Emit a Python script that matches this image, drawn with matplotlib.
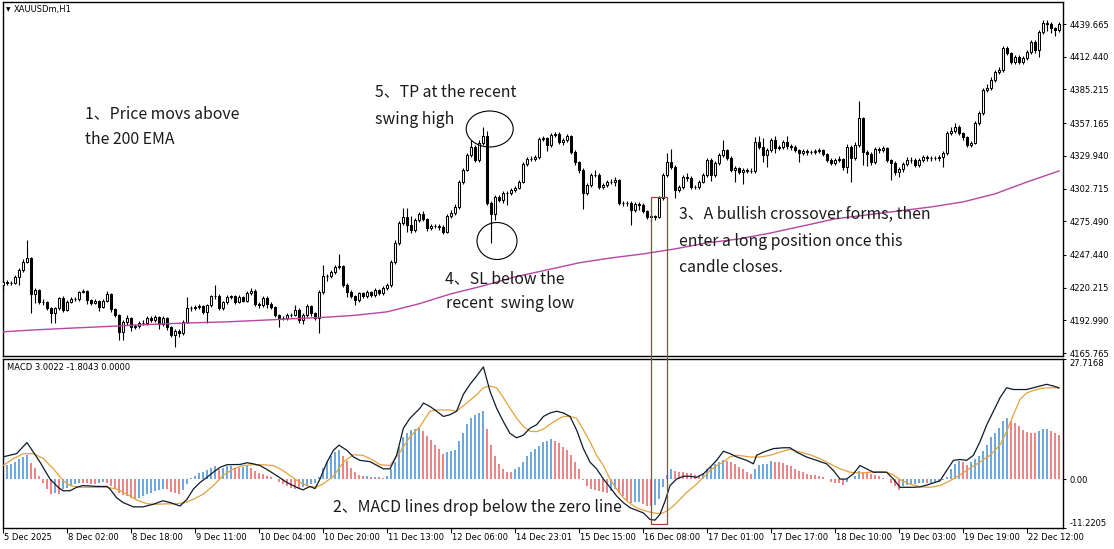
import matplotlib
matplotlib.use("Agg")
import matplotlib.pyplot as plt
from matplotlib.patches import Ellipse, Rectangle
from matplotlib.transforms import offset_copy
import numpy as np

# ---------------- data ----------------
symbol_title = "XAUUSDm,H1"
macd_title = "MACD 3.0022 -1.8043 0.0000"

first_open = 4222.5
closes = [
    4225.0, 4224.1, 4224.5, 4229.1, 4234.9, 4241.6, 4244.9, 4215.0, 4218.3, 4208.3,
    4208.6, 4203.3, 4199.2, 4203.3, 4211.7, 4201.7, 4208.3, 4210.8, 4211.0, 4216.7,
    4217.5, 4210.0, 4207.5, 4209.2, 4204.2, 4209.2, 4215.0, 4202.5, 4197.5, 4183.4,
    4191.7, 4195.0, 4187.5, 4188.4, 4190.9, 4191.0, 4195.0, 4193.4, 4195.9, 4190.0,
    4195.0, 4187.5, 4180.9, 4184.2, 4182.5, 4191.7, 4203.3, 4203.5, 4204.2, 4205.0,
    4200.0, 4205.8, 4213.3, 4213.5, 4203.3, 4208.3, 4212.5, 4213.3, 4208.3, 4212.5,
    4209.2, 4215.8, 4217.5, 4206.7, 4205.8, 4211.7, 4206.7, 4204.2, 4197.5, 4195.0,
    4195.2, 4197.5, 4197.7, 4201.7, 4193.4, 4197.5, 4205.0, 4199.2, 4195.0, 4216.7,
    4230.0, 4230.2, 4233.3, 4237.5, 4238.3, 4222.5, 4216.7, 4213.3, 4210.0, 4215.8,
    4213.3, 4216.7, 4214.2, 4218.3, 4215.8, 4220.0, 4222.5, 4241.6, 4257.4, 4274.1,
    4279.1, 4272.4, 4268.2, 4276.6, 4281.6, 4277.4, 4269.9, 4271.6, 4271.8, 4270.7,
    4266.6, 4279.9, 4282.4, 4287.4, 4308.2, 4318.2, 4330.6, 4337.3, 4326.5, 4340.6,
    4346.4, 4290.7, 4281.6, 4295.7, 4293.2, 4299.0, 4299.2, 4301.5, 4303.2, 4308.2,
    4323.2, 4327.3, 4327.5, 4329.0, 4343.9, 4344.8, 4339.0, 4347.3, 4348.1, 4341.5,
    4343.1, 4346.4, 4333.1, 4324.8, 4318.2, 4299.0, 4305.7, 4314.0, 4314.2, 4304.0,
    4305.7, 4308.2, 4308.4, 4309.8, 4290.7, 4290.9, 4290.6, 4284.9, 4289.9, 4289.0,
    4284.0, 4279.1, 4279.9, 4279.1, 4294.9, 4314.0, 4324.8, 4320.7, 4301.5, 4304.0,
    4312.3, 4311.5, 4304.0, 4304.2, 4308.2, 4314.0, 4326.5, 4314.0, 4324.0, 4330.6,
    4334.8, 4328.1, 4318.2, 4319.8, 4316.5, 4318.2, 4317.3, 4317.5, 4341.5, 4337.3,
    4330.6, 4334.8, 4343.1, 4336.5, 4337.3, 4341.5, 4338.1, 4337.3, 4334.8, 4332.3,
    4334.0, 4333.1, 4333.3, 4334.0, 4334.8, 4331.5, 4326.5, 4324.0, 4326.5, 4327.3,
    4320.7, 4337.3, 4328.1, 4339.0, 4361.4, 4333.1, 4331.5, 4324.8, 4335.6, 4334.8,
    4336.5, 4326.5, 4324.0, 4316.5, 4319.0, 4323.2, 4326.5, 4326.7, 4322.3, 4326.5,
    4329.0, 4328.1, 4328.3, 4328.0, 4329.0, 4332.3, 4348.9, 4350.6, 4353.9, 4348.9,
    4345.6, 4339.0, 4340.6, 4357.3, 4365.6, 4384.7, 4386.4, 4393.0, 4399.7, 4401.4,
    4419.7, 4415.5, 4408.0, 4412.2, 4408.0, 4411.3, 4416.4, 4424.7, 4418.0, 4433.0,
    4440.5, 4439.6, 4436.3, 4434.6, 4439.6,
]
highs = [
    4226.5, 4226.2, 4226.0, 4231.0, 4236.5, 4244.0, 4259.9, 4246.0, 4220.0, 4219.5,
    4210.5, 4209.5, 4204.5, 4204.2, 4212.5, 4213.5, 4210.0, 4212.5, 4212.5, 4217.5,
    4219.0, 4218.3, 4211.0, 4210.5, 4210.0, 4210.5, 4217.5, 4216.0, 4203.5, 4198.5,
    4193.0, 4197.5, 4196.0, 4190.0, 4192.5, 4193.0, 4196.5, 4196.5, 4197.5, 4197.0,
    4196.5, 4196.0, 4188.5, 4186.0, 4185.5, 4193.0, 4212.5, 4205.0, 4205.5, 4206.5,
    4206.0, 4207.0, 4214.5, 4222.5, 4215.0, 4209.5, 4214.0, 4214.5, 4214.2, 4213.8,
    4213.5, 4217.5, 4220.0, 4219.5, 4208.0, 4213.0, 4213.0, 4208.0, 4205.0, 4198.5,
    4197.0, 4199.0, 4199.5, 4206.0, 4203.0, 4199.0, 4206.5, 4206.0, 4200.0, 4218.5,
    4239.1, 4232.0, 4235.0, 4239.5, 4248.3, 4239.5, 4224.0, 4218.0, 4214.5, 4217.0,
    4217.0, 4218.0, 4217.5, 4220.0, 4219.5, 4221.5, 4224.0, 4243.0, 4259.5, 4275.5,
    4286.5, 4286.5, 4280.0, 4278.0, 4283.5, 4284.0, 4278.5, 4273.0, 4273.5, 4273.0,
    4272.0, 4281.5, 4284.5, 4289.5, 4310.0, 4320.0, 4332.0, 4343.1, 4339.0, 4343.1,
    4353.9, 4351.0, 4292.5, 4297.5, 4297.0, 4300.5, 4301.0, 4303.0, 4305.0, 4310.0,
    4325.0, 4329.0, 4330.0, 4331.0, 4345.5, 4346.5, 4346.0, 4349.0, 4349.8, 4349.5,
    4345.0, 4348.5, 4347.5, 4334.5, 4326.0, 4320.0, 4307.5, 4315.5, 4318.2, 4315.5,
    4307.5, 4310.0, 4310.5, 4312.0, 4311.0, 4292.5, 4292.5, 4292.0, 4291.5, 4291.5,
    4290.5, 4285.0, 4281.5, 4281.0, 4296.5, 4315.5, 4332.3, 4335.6, 4322.0, 4306.0,
    4314.0, 4315.5, 4313.0, 4306.0, 4310.0, 4315.5, 4328.5, 4328.0, 4325.5, 4332.0,
    4343.1, 4336.0, 4329.5, 4321.5, 4321.0, 4320.0, 4320.0, 4319.5, 4345.6, 4346.4,
    4345.0, 4336.5, 4345.0, 4346.4, 4339.0, 4343.5, 4346.4, 4340.0, 4339.0, 4336.0,
    4335.5, 4335.5, 4335.0, 4335.5, 4336.5, 4336.0, 4332.5, 4328.0, 4328.0, 4329.5,
    4328.5, 4340.0, 4339.0, 4341.5, 4375.6, 4362.5, 4335.0, 4333.0, 4337.5, 4337.0,
    4338.5, 4337.5, 4327.5, 4325.5, 4320.5, 4325.0, 4329.0, 4329.0, 4328.5, 4328.5,
    4331.0, 4330.5, 4330.0, 4330.0, 4331.0, 4334.0, 4350.5, 4354.0, 4357.0, 4355.5,
    4350.0, 4346.5, 4342.0, 4359.0, 4367.5, 4386.5, 4389.5, 4395.5, 4401.5, 4403.5,
    4421.0, 4421.5, 4416.5, 4414.0, 4413.5, 4413.0, 4418.0, 4426.5, 4426.0, 4434.5,
    4443.0, 4443.0, 4441.0, 4437.5, 4441.5,
]
lows = [
    4216.7, 4222.5, 4222.3, 4223.0, 4222.5, 4233.5, 4240.5, 4199.2, 4207.5, 4207.0,
    4206.0, 4202.0, 4190.9, 4190.9, 4201.5, 4200.0, 4200.5, 4207.5, 4209.2, 4209.0,
    4215.8, 4206.5, 4206.0, 4206.5, 4200.8, 4203.0, 4208.5, 4200.0, 4195.5, 4176.7,
    4176.7, 4189.5, 4184.5, 4185.5, 4186.5, 4189.0, 4189.5, 4192.0, 4191.5, 4186.0,
    4188.5, 4185.0, 4179.0, 4170.9, 4179.5, 4181.0, 4190.5, 4200.5, 4201.5, 4202.5,
    4198.5, 4190.9, 4204.5, 4211.0, 4201.5, 4202.0, 4207.0, 4211.0, 4207.0, 4207.5,
    4208.0, 4208.5, 4214.5, 4205.0, 4203.5, 4204.5, 4203.5, 4202.5, 4196.0, 4187.5,
    4193.0, 4193.5, 4196.0, 4196.5, 4190.5, 4190.0, 4196.0, 4196.5, 4193.5, 4182.5,
    4215.0, 4226.0, 4228.5, 4232.0, 4236.0, 4221.0, 4212.5, 4211.5, 4205.5, 4208.5,
    4211.5, 4212.0, 4212.5, 4212.5, 4214.0, 4214.5, 4218.5, 4221.0, 4240.0, 4255.5,
    4272.5, 4266.6, 4266.0, 4266.5, 4275.0, 4275.5, 4267.0, 4268.0, 4269.5, 4268.5,
    4264.5, 4265.5, 4278.5, 4281.0, 4286.0, 4306.5, 4317.0, 4329.0, 4325.0, 4325.0,
    4339.0, 4289.0, 4257.4, 4276.6, 4291.5, 4291.0, 4289.0, 4297.5, 4299.5, 4302.0,
    4307.0, 4321.5, 4325.5, 4325.5, 4327.5, 4342.0, 4334.0, 4337.5, 4345.5, 4339.5,
    4339.0, 4341.5, 4331.5, 4322.5, 4316.0, 4285.7, 4297.0, 4304.0, 4312.0, 4302.0,
    4302.5, 4304.0, 4306.5, 4305.0, 4289.0, 4288.5, 4288.5, 4272.4, 4283.5, 4284.5,
    4282.0, 4277.0, 4274.9, 4276.5, 4278.0, 4293.5, 4312.5, 4319.0, 4294.5, 4299.5,
    4302.5, 4309.0, 4302.0, 4302.0, 4302.5, 4307.0, 4312.5, 4309.0, 4312.0, 4322.5,
    4329.0, 4326.5, 4316.5, 4308.2, 4314.5, 4306.5, 4315.5, 4315.5, 4316.0, 4335.5,
    4324.5, 4320.7, 4333.0, 4332.0, 4334.5, 4335.5, 4336.0, 4335.0, 4333.0, 4325.1,
    4330.5, 4331.0, 4331.5, 4331.5, 4332.5, 4330.0, 4325.0, 4322.0, 4322.5, 4325.0,
    4318.5, 4315.7, 4308.2, 4326.5, 4337.5, 4322.3, 4321.5, 4322.5, 4323.0, 4332.5,
    4333.0, 4324.5, 4309.8, 4314.0, 4312.0, 4316.5, 4321.5, 4324.0, 4320.5, 4321.0,
    4324.5, 4326.0, 4326.0, 4326.5, 4326.0, 4320.9, 4331.0, 4347.0, 4349.0, 4347.0,
    4343.5, 4337.0, 4337.5, 4339.5, 4355.5, 4364.0, 4383.0, 4385.0, 4391.5, 4398.0,
    4400.0, 4413.5, 4406.0, 4406.5, 4406.0, 4406.5, 4410.0, 4415.0, 4415.5, 4412.4,
    4431.5, 4433.5, 4432.0, 4429.5, 4433.0,
]

# 200 EMA, read every 8 bars
ema_bars = list(range(0, 265, 8))
ema_vals = [
    4183.5, 4185.1, 4186.4, 4187.6, 4188.9, 4190.1, 4191.0, 4191.8, 4193.0, 4194.3,
    4195.5, 4197.2, 4200.1, 4206.8, 4215.1, 4221.7, 4229.2, 4235.0, 4240.9, 4245.0,
    4248.3, 4252.5, 4257.5, 4260.8, 4265.8, 4271.6, 4277.5, 4280.8, 4284.1, 4287.4,
    4291.6, 4298.3, 4308.2, 4317.4,
]

macd_hist = [
    3.2, 3.3, 3.5, 4.0, 4.5, 5.0, 5.6, 3.7, 2.5, 0.8,
    -0.9, -2.3, -3.5, -3.3, -3.5, -2.3, -2.0, -1.7, -1.2, -0.8,
    -0.9, -1.0, -1.1, -1.2, -0.9, -0.7, -1.0, -1.6, -2.3, -3.1,
    -3.6, -3.9, -4.3, -4.6, -4.4, -3.9, -3.5, -3.1, -2.7, -2.5,
    -2.2, -2.4, -2.9, -3.2, -3.4, -2.5, -1.2, 0.3, 0.8, 1.3,
    1.7, 2.1, 2.6, 2.9, 2.3, 2.6, 2.9, 3.0, 2.6, 2.5,
    2.7, 3.0, 2.5, 1.9, 1.3, 1.1, 0.8, 0.5, 0.0, -0.6,
    -1.2, -1.7, -2.1, -2.3, -2.4, -1.8, -1.6, -1.2, -0.9, 0.5,
    2.5, 4.0, 5.3, 6.3, 6.6, 5.4, 4.2, 2.6, 1.6, 0.9,
    0.6, 0.65, 0.5, 0.55, 0.4, 0.3, 0.8, 2.3, 4.0, 7.4,
    9.7, 10.7, 11.3, 11.5, 11.8, 11.0, 9.9, 8.9, 7.9, 7.0,
    5.8, 6.2, 6.4, 6.6, 8.7, 10.6, 12.6, 14.0, 14.8, 15.2,
    15.7, 11.5, 7.8, 5.3, 3.5, 2.3, 1.7, 1.6, 2.3, 2.7,
    4.0, 5.4, 6.2, 6.8, 7.6, 8.5, 8.7, 9.2, 8.7, 8.2,
    7.4, 6.6, 5.6, 4.0, 2.3, -0.2, -1.6, -2.2, -2.5, -2.7,
    -3.0, -3.3, -2.8, -2.4, -3.2, -4.0, -4.8, -5.4, -5.3, -5.2,
    -5.8, -6.1, -6.3, -5.9, -4.5, -1.9, 1.0, 2.3, 1.9, 1.7,
    1.6, 1.5, 1.3, 0.9, 0.6, 1.5, 2.3, 2.7, 3.5, 3.9,
    4.3, 4.2, 3.9, 3.5, 2.8, 2.3, 1.55, 1.17, 2.3, 3.26,
    3.5, 3.55, 4.2, 4.0, 3.9, 3.7, 3.3, 2.9, 2.3, 1.9,
    1.55, 1.17, 1.0, 0.9, 0.8, 0.4, -0.1, -0.6, -0.8, -0.85,
    -1.4, -0.6, 0.05, 0.6, 1.9, 1.7, 1.4, 1.2, 0.9, 0.6,
    0.3, -0.1, -0.8, -1.55, -2.5, -1.7, -1.3, -1.2, -1.1, -1.0,
    -0.9, -1.0, -0.9, -0.8, -0.6, -0.3, 0.4, 2.3, 3.5, 4.04,
    4.0, 3.3, 3.9, 4.7, 5.4, 6.4, 7.9, 9.7, 10.7, 11.7,
    13.4, 14.0, 13.4, 12.8, 12.3, 11.3, 10.9, 10.7, 10.5, 11.0,
    11.5, 11.6, 11.0, 10.5, 10.1,
]

main_bars = [
    0, 3.4, 6, 7.6, 9.25, 11.75, 13.8, 15, 16.75, 18.4, 20, 23.4, 26, 26.75, 28.4, 30,
    32.6, 35, 37.6, 40, 41.75, 44.25, 46, 47.6, 49.25, 51, 52.6, 54.25, 56, 59.25, 61,
    62.6, 64.25, 66, 68.4, 71, 73.4, 75, 76.75, 78, 79.25, 81, 82.6, 84, 86, 87.6, 89.25,
    91.75, 93.4, 95.1, 96.75, 98.4, 100.1, 101.75, 104.25, 105.1, 106.75, 108.4, 110.1,
    111.75, 113.4, 115.1, 116.75, 118.4, 120.1, 121.75, 123.4, 125.1, 126.75, 128.4,
    130.1, 131.75, 133.4, 135.1, 136.75, 138.4, 140.1, 141.75, 143.4, 145.1, 146.75,
    148.4, 150.1, 151.75, 153.4, 155.1, 156.75, 158.4, 160.1, 161.75, 163, 164.25,
    165.5, 166.75, 168.4, 170.1, 171.75, 173.4, 175.1, 176.75, 178.4, 180.1, 181.75,
    183.4, 185.9, 187.6, 188.4, 190.1, 192.6, 195.1, 196.75, 198.4, 200.9, 203.4,
    205.9, 207.6, 209.25, 210.9, 212.6, 214.25, 215.9, 217.6, 219.25, 220.9, 222.6,
    224.25, 225.9, 227.6, 229.25, 230.9, 232.6, 234.25, 235.9, 237.6, 239.25, 240.9,
    242.6, 244.25, 245.9, 247.6, 249.25, 250.9, 252.6, 254.25, 255.9, 257.6, 259.25,
    260.9, 262.6, 264,
]
main_vals = [
    5.1, 5.85, 8.4, 6.2, 3.9, 0.0, -1.9, -2.7, -2.7, -1.9, -1.5, -1.7, -1.7, -2.3, -4.3, -5.4,
    -6.4, -6.4, -5.8, -5.0, -5.4, -6.2, -4.65, -2.3, -0.8, 0.4, 1.6, 2.7, 3.3, 3.35, 3.75,
    3.5, 3.1, 2.2, 0.8, -0.8, -1.9, -2.5, -1.7, -2.2, 0.0, 3.9, 6.6, 7.8, 6.6, 5.1, 4.3,
    4.0, 3.2, 2.35, 2.35, 5.46, 11.7, 14.0, 16.3, 17.5, 16.7, 15.6, 14.4,
    14.8, 15.6, 19.5, 21.8, 23.7, 25.8, 20.2, 16.3, 13.2, 10.5, 9.5,
    10.1, 11.7, 12.5, 14.4, 15.2, 15.6, 15.2, 14.4, 11.3, 7.0, 3.9,
    2.35, 0.0, -1.9, -3.9, -5.45, -6.6, -7.2, -7.8, -9.3, -9.45, -8.1,
    -5.1, -1.5, 0.0, 0.64, 0.64, 0.4, 1.2, 2.7, 4.3, 6.4, 5.85,
    5.1, 4.3, 3.5, 5.46, 6.2, 7.0, 7.2, 7.2, 6.2, 5.06, 4.3,
    3.5, 1.96, 0.0, 0.0, 1.2, 3.1, 2.35, 1.57, 1.57, 1.57, 0.0,
    -1.9, -1.9, -1.9, -1.8, -1.4, -0.9, -0.4, 1.96, 4.3, 4.5, 4.3,
    5.46, 8.6, 12.4, 15.6, 18.7, 21.0, 20.6, 20.6, 20.6, 21.0, 21.4,
    21.8, 21.4, 21.0,
]

signal_bars = [
    0, 2.6, 5.1, 7.6, 10.1, 12.6, 15.1, 16.75, 19.25, 22.6, 26, 28.4, 31, 33.4, 36, 38.4,
    41, 43.4, 45.5, 47.6, 50, 52.6, 55, 57.6, 60, 62.6, 65, 67.6, 70, 71.75, 74.25, 76.75,
    78.4, 80, 82.6, 85.1, 87.6, 90, 92.6, 94.25, 96.75, 99.25, 101.75, 104.25, 106.75,
    108.4, 111.75, 113.4, 115.9, 118.4, 120.1, 121.75, 123.4, 125.1, 126.75, 128.4,
    130.1, 131.75, 133.4, 135.1, 136.75, 138.4, 140.1, 141.75, 143.4, 145.1, 146.75,
    148.4, 150.1, 151.75, 153.4, 155.1, 156.75, 158.4, 160.1, 161.75, 163.4, 164.6,
    165.9, 167.6, 169.25, 170.9, 173.4, 175.1, 176.75, 178.4, 180.1, 181.75, 183.4,
    185.1, 186.75, 189.25, 191.75, 194.25, 196.75, 199.25, 201.75, 204.25, 206.75,
    209.25, 211.75, 214.25, 216.75, 219.25, 220.9, 222.6, 224.25, 226.75, 229.25,
    231.75, 234.25, 236.75, 239.25, 241.75, 244.25, 246.75, 249.25, 250.9, 252.6,
    254.25, 255.9, 257.6, 259.25, 260.9, 262.6, 264,
]
signal_vals = [
    3.1, 4.7, 5.85, 5.85, 4.7, 2.35, -0.4, -1.5, -1.9, -1.9, -1.9, -2.3, -3.5, -4.8, -5.7, -5.8,
    -5.7, -5.7, -5.4, -4.65, -3.5, -1.5, 0.8, 2.35, 3.1, 3.3, 3.3, 3.1, 1.96, 0.8, -0.76, -1.8,
    -1.8, -1.15, 0.64, 3.9, 5.6, 5.45, 4.3, 3.3, 3.1, 6.2, 9.7, 12.1, 15.6,
    15.9, 15.9, 15.6, 17.5, 19.4, 21.0, 21.4, 21.0, 18.7, 16.3, 14.0,
    12.1, 11.0, 10.9, 11.5, 12.6, 13.6, 14.4, 14.4, 14.0, 11.3, 8.6,
    5.46, 3.1, 0.0, -2.3, -4.3, -5.6, -6.6, -7.2, -7.6, -7.9, -7.9,
    -7.4, -6.2, -4.65, -3.1, -1.15, 0.4, 1.96, 3.1, 3.9, 5.1, 5.46,
    5.3, 5.06, 5.06, 5.46, 6.2, 6.85, 6.2, 5.6, 4.7, 3.5,
    2.35, 1.57, 1.4, 1.57, 1.73, 1.57, 0.95, -0.14, -1.15, -1.8,
    -1.9, -1.5, -0.4, 0.95, 2.5, 3.9, 5.46, 7.8, 10.9, 14.8,
    18.3, 19.8, 20.4, 20.8, 21.0, 21.0, 20.9,
]

price_ticks = [4439.665, 4412.440, 4385.215, 4357.165, 4329.940, 4302.715,
               4275.490, 4247.440, 4220.215, 4192.990, 4165.765]
macd_ticks = [27.7168, 0.0, -11.2205]
macd_tick_labels = ["27.7168", "0.00", "-11.2205"]
time_tick_bars = list(range(0, 257, 16))
time_tick_labels = ["5 Dec 2025", "8 Dec 02:00", "8 Dec 18:00", "9 Dec 11:00",
                    "10 Dec 04:00", "10 Dec 20:00", "11 Dec 13:00", "12 Dec 06:00",
                    "14 Dec 23:01", "15 Dec 15:00", "16 Dec 08:00", "17 Dec 01:00",
                    "17 Dec 17:00", "18 Dec 10:00", "19 Dec 03:00", "19 Dec 19:00",
                    "22 Dec 12:00"]

# ---------------- figure ----------------
W, H = 1114, 549
fig = plt.figure(figsize=(W / 100, H / 100), dpi=100)
fig.patch.set_facecolor("white")


def rect(x0, y0, x1, y1):
    return [x0 / W, 1 - y1 / H, (x1 - x0) / W, (y1 - y0) / H]


def fp(x, y):
    return (x / W, 1 - y / H)


ax1 = fig.add_axes(rect(2.5, 2.0, 1063, 356.3))
ax2 = fig.add_axes(rect(2.5, 358.6, 1063, 527.8), sharex=ax1)

SMALL = 6.0
for ax in (ax1, ax2):
    for s in ax.spines.values():
        s.set_linewidth(1.0)
        s.set_color("black")
    ax.set_facecolor("white")

n = len(closes)
x = np.arange(n)
c = np.array(closes)
o = np.concatenate([[first_open], c[:-1]])
hi = np.array(highs)
lo = np.array(lows)

ax1.vlines(x, lo, hi, color="black", linewidth=0.8, zorder=2)
bull = c >= o
body_bottom = np.minimum(o, c)
body_h = np.abs(c - o)
ax1.bar(x[bull], body_h[bull], bottom=body_bottom[bull], width=0.6,
        facecolor="white", edgecolor="black", linewidth=0.75, zorder=3)
ax1.bar(x[~bull], body_h[~bull], bottom=body_bottom[~bull], width=0.6,
        facecolor="black", edgecolor="black", linewidth=0.75, zorder=3)
ax1.plot(ema_bars, ema_vals, color="#b8459f", linewidth=1.0, zorder=4)

ax1.set_xlim(-0.125, 265.0)
ax1.set_ylim(4163.1, 4458.0)
ax1.yaxis.tick_right()
ax1.set_yticks(price_ticks)
ax1.set_yticklabels([f"{v:.3f}" for v in price_ticks])
ax1.tick_params(axis="y", direction="out", length=2.5, width=0.7, pad=2,
                labelsize=SMALL, colors="black")
ax1.tick_params(axis="x", bottom=False, labelbottom=False)

# MACD panel
hist = np.array(macd_hist)
prev = np.concatenate([[hist[0] + 0.1], hist[:-1]])
hcols = np.where(hist >= prev, "#6ea8e0", "#ee8585")
ax2.bar(x, hist, width=0.72, color=hcols, linewidth=0, zorder=2)
ax2.plot(signal_bars, signal_vals, color="#e3a23a", linewidth=0.9, zorder=3)
ax2.plot(main_bars, main_vals, color="#0e1a2b", linewidth=0.9, zorder=4)
ax2.set_ylim(-11.2205, 27.7168)
ax2.yaxis.tick_right()
ax2.set_yticks(macd_ticks)
ax2.set_yticklabels(macd_tick_labels)
ax2.tick_params(axis="y", direction="out", length=2.5, width=0.7, pad=2,
                labelsize=SMALL, colors="black")
ylabs = ax2.get_yticklabels()
ylabs[0].set_va("top")
ylabs[2].set_va("bottom")

ax2.set_xticks(time_tick_bars)
ax2.set_xticklabels(time_tick_labels)
ax2.tick_params(axis="x", direction="out", length=3.5, width=0.7, pad=0.5,
                labelsize=SMALL, colors="black")
for lab in ax2.get_xticklabels():
    lab.set_ha("left")
    lab.set_transform(offset_copy(lab.get_transform(), fig=fig, x=1.5, y=0, units="dots"))

# header texts
fig.text(*fp(6, 9.5), "\u25bc", fontsize=4.2, va="center", ha="left", color="black")
fig.text(*fp(14, 9.5), symbol_title, fontsize=SMALL, va="center", ha="left", color="black")
fig.text(*fp(7, 367.5), macd_title, fontsize=SMALL, va="center", ha="left", color="black")

# annotations
ann_font = ["Noto Sans CJK SC", "DejaVu Sans"]
ann_kw = dict(fontsize=11.4, family=ann_font, color="#1a1a1a", va="center", ha="left")
notes = [
    (85, 113.5, "1\u3001Price movs above"),
    (85, 140, "the 200 EMA"),
    (375, 92, "5\u3001TP at the recent"),
    (375, 119.5, "swing high"),
    (445, 278.5, "4\u3001SL below the"),
    (446, 304, "recent  swing low"),
    (679, 214, "3\u3001A bullish crossover forms, then"),
    (679, 241, "enter a long position once this"),
    (679, 267, "candle closes."),
    (333, 507, "2\u3001MACD lines drop below the zero line"),
]
for nx, ny, t in notes:
    fig.text(*fp(nx, ny), t, **ann_kw)

e1 = Ellipse(fp(489.7, 129.0), 47 / W, 36 / H, transform=fig.transFigure,
             fill=False, edgecolor="black", linewidth=0.8)
e2 = Ellipse(fp(497.0, 241.0), 40 / W, 37 / H, transform=fig.transFigure,
             fill=False, edgecolor="black", linewidth=0.8)
r1 = Rectangle(fp(650.7, 524.0), 16.0 / W, (524.0 - 197.3) / H, transform=fig.transFigure,
               fill=False, edgecolor="#b03c3c", linewidth=0.9)
for p in (e1, e2, r1):
    fig.add_artist(p)

fig.savefig("out.png", dpi=100, facecolor="white")
